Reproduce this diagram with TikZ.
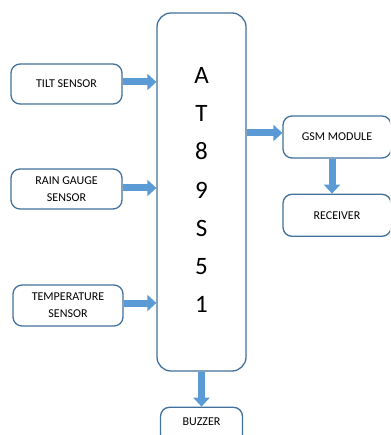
\documentclass[tikz,border=0pt]{standalone}
\usepackage{fontspec}
\setmainfont{Carlito}
\usepackage{tikz}
\usetikzlibrary{positioning,arrows.meta}

\definecolor{boxline}{HTML}{41719C}
\definecolor{arrowfill}{HTML}{5B9BD5}

\tikzset{
  block/.style={draw=boxline, line width=1.3pt, rounded corners=9pt, fill=white,
    align=center, inner sep=0pt, font=\fontsize{12}{17}\selectfont},
  fatarrow/.style={draw=arrowfill, line width=7pt,
    -{Triangle[length=9pt,width=16pt]}, shorten >=0pt}
}

\begin{document}
\begin{tikzpicture}[x=1pt,y=-1pt]
  \path[use as bounding box] (0,0) rectangle (390,435);
  \clip (0,0) rectangle (390,435);

  % controller
  \node[block, minimum width=89pt, minimum height=358pt, rounded corners=14pt] (mcu) at (201.5,192) {};
  \node[font=\fontsize{25}{38.3}\selectfont, align=center, inner sep=0pt] (mcutext)
        at ([yshift=2pt]mcu.center) {A\\T\\8\\9\\S\\5\\1};

  % inputs
  \node[block, minimum width=111pt, minimum height=40pt] (tilt) at (66.5,84) {TILT SENSOR};
  \node[block, minimum width=111pt, minimum height=40pt] (rain) at (66.5,189) {RAIN GAUGE\\SENSOR};
  \node[block, minimum width=110pt, minimum height=41pt] (temp) at (68,305.5) {TEMPERATURE\\SENSOR};

  % outputs
  \node[block, minimum width=108pt, minimum height=42pt] (gsm) at (337,137) {GSM MODULE};
  \node[block, minimum width=108pt, minimum height=42pt, below=35pt of gsm] (recv) {RECEIVER};
  \node[block, minimum width=82pt, minimum height=36pt, text depth=7pt, below=35pt of mcu] (buzz) {BUZZER};

  \draw[fatarrow] (tilt.east |- 0,82) -- (mcu.west |- 0,82);
  \draw[fatarrow] (rain.east |- 0,188) -- (mcu.west |- 0,188);
  \draw[fatarrow] (temp.east |- 0,303) -- (mcu.west |- 0,303);
  \draw[fatarrow] (mcu.east |- 0,133) -- (gsm.west |- 0,133);
  \draw[fatarrow] ([xshift=-5pt]gsm.south) -- ([xshift=-5pt]recv.north);
  \draw[fatarrow] (mcu.south) -- (buzz.north);
\end{tikzpicture}
\end{document}
